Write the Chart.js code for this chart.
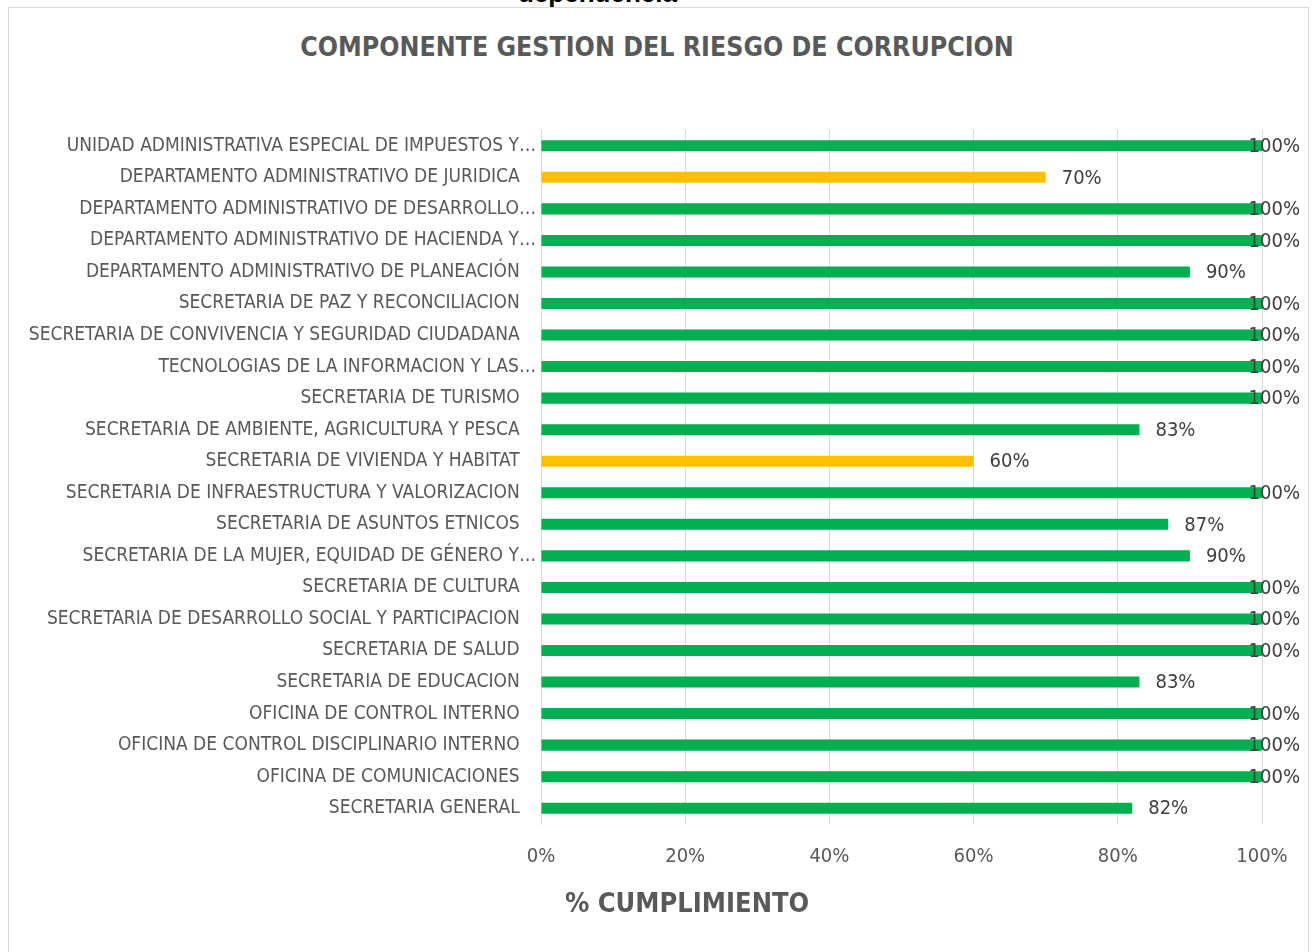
<!DOCTYPE html>
<html>
<head>
<meta charset="utf-8">
<script src="https://cdn.jsdelivr.net/npm/chart.js@4.4.1/dist/chart.umd.min.js"></script>
<style>
  html, body { margin: 0; padding: 0; background: #fff; overflow: hidden; }
  #wrap { position: relative; width: 1314px; height: 952px; }
  #frame { position: absolute; left: 8px; top: 7px; width: 1299px; height: 960px; border: 1px solid #d9d9d9; }
  #dep { position: absolute; left: 518px; top: -22px; line-height: 26px; font: bold 26px "Liberation Sans", Arial, sans-serif; color: #000; }
  #title { position: absolute; left: 0; width: 1314px; top: 31px; text-align: center; font: bold 26.5px "DejaVu Sans Condensed", sans-serif; color: #595959; }
  #xtitle { position: absolute; left: 565px; top: 887px; font: bold 27px "DejaVu Sans Condensed", sans-serif; color: #595959; }
  canvas { position: absolute; left: 0; top: 0; }
</style>
</head>
<body>
<div id="wrap">
  <div id="frame"></div>
  <div id="dep">dependencia</div>
  <div id="title">COMPONENTE GESTION DEL RIESGO DE CORRUPCION</div>
  <canvas id="chart" width="1314" height="952"></canvas>
  <div id="xtitle">% CUMPLIMIENTO</div>
</div>
<script>
// dependencias (de arriba hacia abajo)
const categorias = [
  'UNIDAD ADMINISTRATIVA ESPECIAL DE IMPUESTOS Y…',
  'DEPARTAMENTO ADMINISTRATIVO DE JURIDICA',
  'DEPARTAMENTO ADMINISTRATIVO DE DESARROLLO…',
  'DEPARTAMENTO ADMINISTRATIVO DE HACIENDA Y…',
  'DEPARTAMENTO ADMINISTRATIVO DE PLANEACIÓN',
  'SECRETARIA DE PAZ Y RECONCILIACION',
  'SECRETARIA DE CONVIVENCIA Y SEGURIDAD CIUDADANA',
  'TECNOLOGIAS DE LA INFORMACION Y LAS…',
  'SECRETARIA DE TURISMO',
  'SECRETARIA DE AMBIENTE, AGRICULTURA Y PESCA',
  'SECRETARIA DE VIVIENDA Y HABITAT',
  'SECRETARIA DE INFRAESTRUCTURA Y VALORIZACION',
  'SECRETARIA DE ASUNTOS ETNICOS',
  'SECRETARIA DE LA MUJER, EQUIDAD DE GÉNERO Y…',
  'SECRETARIA DE CULTURA',
  'SECRETARIA DE DESARROLLO SOCIAL Y PARTICIPACION',
  'SECRETARIA DE SALUD',
  'SECRETARIA DE EDUCACION',
  'OFICINA DE CONTROL INTERNO',
  'OFICINA DE CONTROL DISCIPLINARIO INTERNO',
  'OFICINA DE COMUNICACIONES',
  'SECRETARIA GENERAL'
];

// % cumplimiento
const cumplimiento = [100, 70, 100, 100, 90, 100, 100, 100, 100, 83, 60, 100, 87, 90, 100, 100, 100, 83, 100, 100, 100, 82];

const ticksX = [0, 20, 40, 60, 80, 100];

const VERDE = '#00B050';
const AMARILLO = '#FFC000';
const colores = cumplimiento.map(v => v < 80 ? AMARILLO : VERDE);

const fuente = 'DejaVu Sans Condensed';

// etiquetas de valor al final de cada barra (como en Excel, sin salirse del marco)
const etiquetasPlugin = {
    id: 'etiquetas',
    afterDatasetsDraw(chart) {
        const ctx = chart.ctx;
        const meta = chart.getDatasetMeta(0);
        ctx.save();
        ctx.font = '20px "' + fuente + '"';
        ctx.fillStyle = '#404040';
        ctx.textBaseline = 'middle';
        ctx.textAlign = 'left';
        meta.data.forEach((bar, i) => {
            const txt = cumplimiento[i] + '%';
            const w = ctx.measureText(txt).width;
            let x = bar.x + 16;
            if (x + w > 1300) x = 1300 - w;
            ctx.fillText(txt, x, bar.y + 1);
        });
        ctx.restore();
    }
};

new Chart(document.getElementById('chart'), {
    type: 'bar',
    data: {
        labels: categorias,
        datasets: [{
            data: cumplimiento,
            backgroundColor: colores,
            borderWidth: 0,
            categoryPercentage: 1,
            barPercentage: 0.35
        }]
    },
    plugins: [etiquetasPlugin],
    options: {
        indexAxis: 'y',
        responsive: false,
        animation: false,
        layout: { padding: { left: 0, top: 130, right: 52, bottom: 78 } },
        plugins: {
            legend: { display: false },
            tooltip: { enabled: false }
        },
        scales: {
            x: {
                min: 0,
                max: 100,
                afterBuildTicks: (s) => { s.ticks = ticksX.map(v => ({ value: v })); },
                afterFit: (s) => { s.height = 50; },
                grid: { color: '#d9d9d9', drawTicks: false },
                border: { display: false },
                ticks: {
                    padding: 21,
                    color: '#595959',
                    font: { family: fuente, size: 20 },
                    callback: (v) => v + '%'
                }
            },
            y: {
                afterFit: (s) => { s.width = 541; },
                grid: { display: false, drawTicks: false },
                border: { color: '#d9d9d9' },
                ticks: {
                    padding: 5,
                    autoSkip: false,
                    color: '#595959',
                    font: { family: fuente, size: 19 },
                    // las etiquetas completas quedan un poco separadas del eje
                    callback: (v, i) => categorias[i].endsWith('…') ? categorias[i] : categorias[i] + '   '
                }
            }
        }
    }
});
</script>
</body>
</html>
